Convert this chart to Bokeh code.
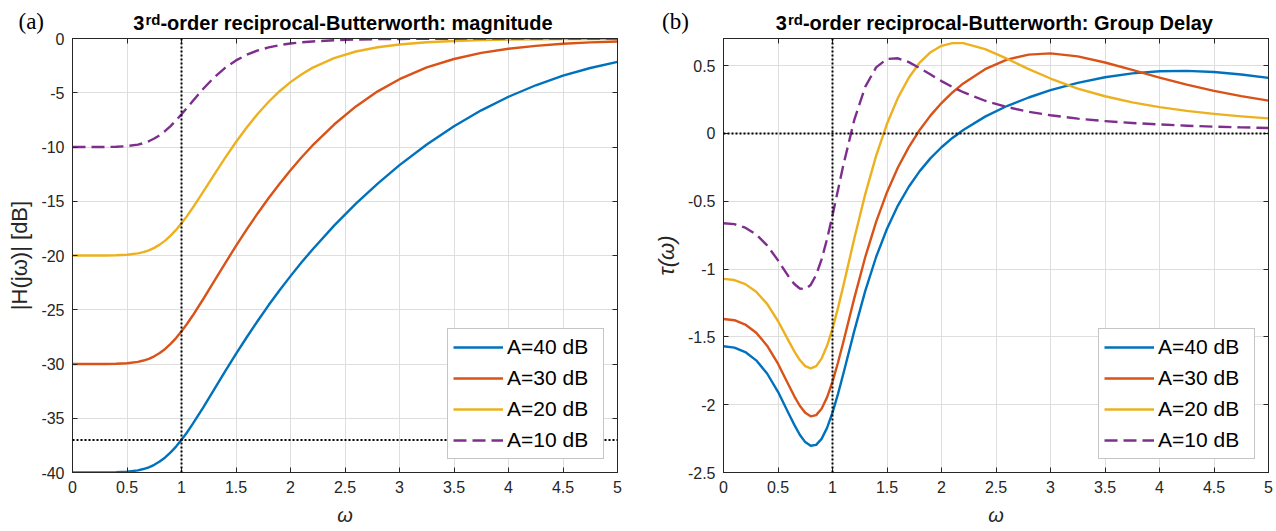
from bokeh.plotting import figure
from bokeh.layouts import row, column
from bokeh.models import (Range1d, FixedTicker, LinearAxis, Span, Div,
                          NumeralTickFormatter, CustomJSTickFormatter)
from bokeh.embed import file_html
from bokeh.resources import INLINE

# ---------------- data ----------------
omega = [0, 0.1, 0.2, 0.3, 0.4, 0.5, 0.6, 0.65, 0.7, 0.75, 0.8, 0.85, 0.9, 0.95,
         1.0, 1.05, 1.1, 1.2, 1.3, 1.4, 1.5, 1.6, 1.7, 1.8, 1.9, 2.0, 2.1, 2.2,
         2.4, 2.6, 2.8, 3.0, 3.25, 3.5, 3.75, 4.0, 4.25, 4.5, 4.75, 5.0]

mag_40 = [-40.00, -40.00, -40.00, -40.00, -39.98, -39.93, -39.80, -39.68, -39.52,
          -39.29, -38.99, -38.61, -38.15, -37.61, -36.99, -36.31, -35.57, -34.00,
          -32.35, -30.69, -29.07, -27.51, -26.01, -24.57, -23.20, -21.90, -20.65,
          -19.47, -17.25, -15.22, -13.37, -11.67, -9.77, -8.09, -6.62, -5.37,
          -4.31, -3.43, -2.72, -2.15]
mag_30 = [-30.00, -30.00, -30.00, -30.00, -29.98, -29.93, -29.80, -29.68, -29.52,
          -29.29, -28.99, -28.61, -28.15, -27.61, -26.99, -26.31, -25.58, -24.01,
          -22.37, -20.72, -19.12, -17.57, -16.10, -14.70, -13.38, -12.14, -10.97,
          -9.88, -7.93, -6.26, -4.87, -3.75, -2.67, -1.89, -1.33, -0.95, -0.68,
          -0.49, -0.36, -0.27]
mag_20 = [-20.00, -20.00, -20.00, -20.00, -19.98, -19.93, -19.80, -19.69, -19.52,
          -19.30, -19.00, -18.63, -18.17, -17.64, -17.03, -16.37, -15.65, -14.12,
          -12.55, -11.01, -9.54, -8.18, -6.94, -5.83, -4.86, -4.02, -3.31, -2.71,
          -1.81, -1.20, -0.81, -0.55, -0.35, -0.23, -0.15, -0.10, -0.07, -0.05,
          -0.04, -0.03]
mag_10 = [-10.00, -10.00, -10.00, -10.00, -9.98, -9.92, -9.78, -9.65, -9.47,
          -9.22, -8.91, -8.52, -8.07, -7.55, -6.99, -6.40, -5.80, -4.63, -3.58,
          -2.71, -2.02, -1.49, -1.10, -0.82, -0.61, -0.46, -0.35, -0.27, -0.16,
          -0.10, -0.06, -0.04, -0.03, -0.02, -0.01, -0.01, -0.01, 0.00, 0.00, 0.00]

gd_40 = [-1.569, -1.579, -1.612, -1.673, -1.770, -1.905, -2.068, -2.149, -2.222,
         -2.276, -2.303, -2.296, -2.252, -2.171, -2.058, -1.922, -1.770, -1.456,
         -1.163, -0.911, -0.703, -0.532, -0.393, -0.278, -0.182, -0.102, -0.033,
         0.026, 0.124, 0.202, 0.265, 0.319, 0.373, 0.414, 0.443, 0.458, 0.461,
         0.453, 0.435, 0.410]
gd_30 = [-1.368, -1.377, -1.409, -1.469, -1.565, -1.698, -1.858, -1.938, -2.008,
         -2.060, -2.086, -2.077, -2.030, -1.946, -1.830, -1.691, -1.536, -1.214,
         -0.913, -0.652, -0.433, -0.251, -0.101, 0.026, 0.133, 0.224, 0.302,
         0.369, 0.474, 0.544, 0.581, 0.590, 0.568, 0.523, 0.468, 0.412, 0.360,
         0.314, 0.275, 0.242]
gd_20 = [-1.072, -1.081, -1.111, -1.167, -1.257, -1.383, -1.533, -1.607, -1.671,
         -1.716, -1.733, -1.716, -1.660, -1.566, -1.439, -1.288, -1.122, -0.775,
         -0.449, -0.166, 0.071, 0.262, 0.411, 0.523, 0.599, 0.646, 0.666, 0.666,
         0.622, 0.551, 0.474, 0.405, 0.331, 0.274, 0.229, 0.194, 0.166, 0.144,
         0.126, 0.111]
gd_10 = [-0.662, -0.669, -0.695, -0.745, -0.825, -0.936, -1.059, -1.110, -1.143,
         -1.148, -1.117, -1.043, -0.929, -0.779, -0.604, -0.418, -0.232, 0.100,
         0.343, 0.487, 0.549, 0.554, 0.526, 0.482, 0.434, 0.386, 0.343, 0.304,
         0.241, 0.195, 0.160, 0.134, 0.109, 0.091, 0.077, 0.066, 0.057, 0.050,
         0.045, 0.040]

series_labels = ["A=40 dB", "A=30 dB", "A=20 dB", "A=10 dB"]

x_ticks = [0, 0.5, 1, 1.5, 2, 2.5, 3, 3.5, 4, 4.5, 5]
x_tick_labels = ["0", "0.5", "1", "1.5", "2", "2.5", "3", "3.5", "4", "4.5", "5"]
mag_ticks = [-40, -35, -30, -25, -20, -15, -10, -5, 0]
mag_tick_labels = ["-40", "-35", "-30", "-25", "-20", "-15", "-10", "-5", "0"]
gd_ticks = [-2.5, -2, -1.5, -1, -0.5, 0, 0.5]
gd_tick_labels = ["-2.5", "-2", "-1.5", "-1", "-0.5", "0", "0.5"]

ref_omega = 1.0      # vertical dotted marker
ref_mag = -37.0      # horizontal dotted marker (magnitude)
ref_gd = 0.0         # horizontal dotted marker (group delay)

panel_letters = ["(a)", "(b)"]
title_num = "3"
title_sup = "rd"
title_rest = ["-order reciprocal-Butterworth: magnitude",
              "-order reciprocal-Butterworth: Group Delay"]

# ---------------- style ----------------
COLORS = ["#0072BD", "#D95319", "#EDB120", "#7E2F8E"]
DASHES = ["solid", "solid", "solid", "13 6"]
FONT = "Liberation Sans"
AX = "#262626"
HEADER_H = 30
PANEL_H = 500
LW = 2.4


def style_axis(ax, ticks, labels):
    ax.ticker = FixedTicker(ticks=ticks)
    ax.formatter = NumeralTickFormatter(format="0.[0]")
    ax.major_label_overrides = dict(zip(ticks, labels))
    ax.major_label_text_font = FONT
    ax.major_label_text_font_size = "16px"
    ax.major_label_text_color = AX
    ax.major_label_standoff = 8
    ax.major_tick_in = 5
    ax.major_tick_out = 0
    ax.minor_tick_line_color = None
    ax.axis_line_color = AX
    ax.major_tick_line_color = AX


def box_axis(p, ticks, side):
    ax = LinearAxis(ticker=FixedTicker(ticks=ticks),
                    formatter=CustomJSTickFormatter(code="return ''"),
                    major_label_standoff=0, major_label_text_font_size="1px",
                    major_tick_in=5, major_tick_out=0,
                    minor_tick_line_color=None,
                    axis_line_color=AX, major_tick_line_color=AX)
    p.add_layout(ax, side)


def make_panel(width, ylo, yhi, yticks, ylabels, ylabel, ylabel_style,
               border_left, border_right, series, ref_y):
    p = figure(width=width, height=PANEL_H, title=None,
               x_range=Range1d(0, 5), y_range=Range1d(ylo, yhi),
               output_backend="svg", toolbar_location=None,
               min_border_left=border_left, min_border_right=border_right,
               min_border_top=8, min_border_bottom=58,
               background_fill_color="white", border_fill_color=None,
               outline_line_color=AX)
    style_axis(p.xaxis[0], x_ticks, x_tick_labels)
    style_axis(p.yaxis[0], yticks, ylabels)

    p.xaxis[0].axis_label = "ω"
    p.xaxis[0].axis_label_text_font = FONT
    p.xaxis[0].axis_label_text_font_size = "20px"
    p.xaxis[0].axis_label_text_font_style = "italic"
    p.xaxis[0].axis_label_text_color = AX
    p.xaxis[0].axis_label_standoff = 8

    p.yaxis[0].axis_label = ylabel
    p.yaxis[0].axis_label_text_font = FONT
    p.yaxis[0].axis_label_text_font_size = "22px"
    p.yaxis[0].axis_label_text_font_style = ylabel_style
    p.yaxis[0].axis_label_text_color = AX
    p.yaxis[0].axis_label_standoff = 6

    box_axis(p, x_ticks, "above")
    box_axis(p, yticks, "right")

    p.xgrid.grid_line_color = "#dedede"
    p.ygrid.grid_line_color = "#dedede"

    # dotted reference lines (added before the legend so the legend covers them)
    p.add_layout(Span(location=ref_omega, dimension="height", line_color="black",
                      line_dash="2 2", line_width=2))
    p.add_layout(Span(location=ref_y, dimension="width", line_color="black",
                      line_dash="2 2", line_width=2))

    for vals, col, dash, lab in zip(series, COLORS, DASHES, series_labels):
        p.line(omega, vals, line_color=col, line_width=LW, line_dash=dash,
               line_join="round", legend_label=lab)

    lg = p.legend[0]
    lg.location = "bottom_right"
    lg.margin = 13
    lg.padding = 5
    lg.spacing = 5
    lg.glyph_width = 50
    lg.glyph_height = 26
    lg.label_height = 26
    lg.label_width = 91
    lg.label_standoff = 4
    lg.label_text_font = FONT
    lg.label_text_font_size = "21px"
    lg.label_text_color = "black"
    lg.border_line_color = "#8c8c8c"
    lg.border_line_width = 1
    lg.background_fill_color = "white"
    lg.background_fill_alpha = 1.0
    return p


p1 = make_panel(640, -40, 0, mag_ticks, mag_tick_labels, "|H(jω)| [dB]", "normal",
                72, 23, [mag_40, mag_30, mag_20, mag_10], ref_mag)
p2 = make_panel(634, -2.5, 0.7, gd_ticks, gd_tick_labels, "τ(ω)", "italic",
                83, 6, [gd_40, gd_30, gd_20, gd_10], ref_gd)

# ---------------- header strip with the panel letters and titles ----------------
letter_left = [18.5, 662.0]
title_left = [133.3, 775.8]

parts = ['<div style="position:relative;width:1274px;height:%dpx;overflow:visible;'
         'color:#000;">' % HEADER_H]
for lx, letter in zip(letter_left, panel_letters):
    parts.append(
        '<span style="position:absolute;left:%.1fpx;top:10px;'
        "font-family:'Liberation Serif',serif;font-size:23px;line-height:23px;"
        'white-space:nowrap;">%s</span>' % (lx, letter))
for tx, rest in zip(title_left, title_rest):
    parts.append(
        '<span style="position:absolute;left:%.1fpx;top:13px;'
        "font-family:'Liberation Sans',sans-serif;font-size:20px;line-height:20px;"
        'font-weight:bold;white-space:nowrap;">%s'
        '<sup style="font-size:15px;line-height:0;vertical-align:baseline;'
        'position:relative;top:-5px;margin-left:1px;margin-right:0px;">%s</sup>%s'
        '</span>' % (tx, title_num, title_sup, rest))
parts.append('</div>')

header = Div(text="".join(parts), width=1274, height=HEADER_H, margin=0)

layout = column(header, row(p1, p2))
open("out.html", "w").write(file_html(layout, INLINE))
